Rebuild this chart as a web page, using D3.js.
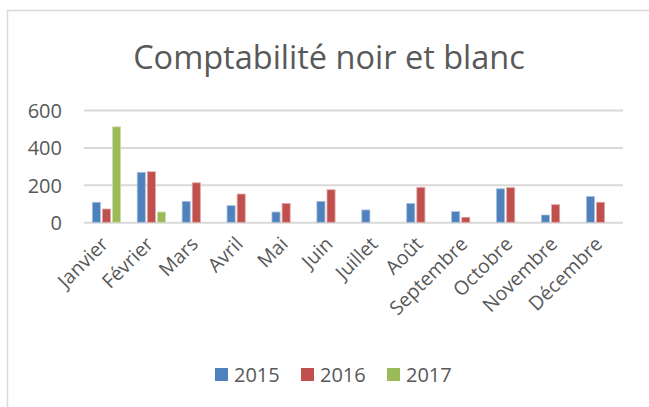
<!DOCTYPE html>
<html>
<head>
<meta charset="utf-8">
<script src="https://cdn.jsdelivr.net/npm/d3@7"></script>
<style>
  body { margin: 0; background: #fff; }
  svg { display: block; font-family: "Open Sans", sans-serif; }
</style>
</head>
<body>
<svg id="chart" width="649" height="407"></svg>
<script>
// months on the x axis
const months = ['Janvier', 'Février', 'Mars', 'Avril', 'Mai', 'Juin', 'Juillet', 'Août', 'Septembre', 'Octobre', 'Novembre', 'Décembre'];
const years = ['2015', '2016', '2017'];

// values, null = no bar
const values2015 = [107, 267, 112, 89, 55, 112, 66, 101, 57, 179, 39, 138];
const values2016 = [71, 270, 211, 151, 101, 174, null, 187, 27, 185, 94, 107];
const values2017 = [510, 55, null, null, null, null, null, null, null, null, null, null];

const yTicks = [0, 200, 400, 600];

const colors = ['#4F81BD', '#C0504D', '#9BBB59'];
const strokes = ['#A7C0DE', '#E0A8A6', '#CDDDAC'];
const textColor = '#595959';

const svg = d3.select('#chart');

// outer frame (cut off on the right and bottom)
svg.append('rect')
  .attr('x', 7.5).attr('y', 10.5)
  .attr('width', 700).attr('height', 500)
  .attr('fill', 'none')
  .attr('stroke', '#D9D9D9')
  .attr('stroke-width', 1.5);

svg.append('text')
  .attr('x', 329).attr('y', 69)
  .attr('text-anchor', 'middle')
  .attr('font-size', 32.5)
  .attr('fill', textColor)
  .text('Comptabilité noir et blanc');

const xScale = d3.scaleBand().domain(months).range([84, 623]).paddingInner(0.37).paddingOuter(0.185);
const xSub = d3.scaleBand().domain(years).range([0, xScale.bandwidth()]).paddingInner(0.2);
const yScale = d3.scaleLinear().domain([0, 600]).range([222.3, 110]);

// gridlines + y labels
const yAxis = svg.append('g')
  .attr('transform', 'translate(84,0)')
  .call(d3.axisLeft(yScale).tickValues(yTicks).tickSizeInner(-539).tickSizeOuter(0).tickPadding(22));
yAxis.select('.domain').remove();
yAxis.selectAll('.tick line').attr('stroke', '#D9D9D9').attr('stroke-width', 2);
yAxis.selectAll('.tick text')
  .attr('font-size', 20)
  .attr('font-family', '"Open Sans", sans-serif')
  .attr('fill', textColor)
  .attr('dy', '0.36em');

// bars
const series = [values2015, values2016, values2017];
series.forEach(function (vals, s) {
  svg.append('g').selectAll('rect')
    .data(vals.map(function (v, i) { return { month: months[i], value: v }; }).filter(function (d) { return d.value !== null; }))
    .enter()
    .append('rect')
    .attr('x', function (d) { return xScale(d.month) + xSub(years[s]); })
    .attr('y', function (d) { return yScale(d.value); })
    .attr('width', xSub.bandwidth())
    .attr('height', function (d) { return yScale(0) - yScale(d.value); })
    .attr('fill', colors[s])
    .attr('stroke', strokes[s])
    .attr('stroke-width', 0.8);
});

// x labels, rotated
const xAxis = svg.append('g')
  .attr('transform', 'translate(0,222.3)')
  .call(d3.axisBottom(xScale).tickSize(0).tickPadding(0));
xAxis.select('.domain').remove();
xAxis.selectAll('.tick text')
  .attr('font-size', 19.5)
  .attr('font-family', '"Open Sans", sans-serif')
  .attr('fill', textColor)
  .attr('text-anchor', 'end')
  .attr('y', 0)
  .attr('dy', 0)
  .attr('transform', 'translate(3,23) rotate(-45)');

// legend
const legend = svg.append('g');
years.forEach(function (y, i) {
  const lx = 215 + i * 86;
  legend.append('rect')
    .attr('x', lx).attr('y', 368)
    .attr('width', 13).attr('height', 13)
    .attr('fill', colors[i]);
  legend.append('text')
    .attr('x', lx + 19).attr('y', 382)
    .attr('font-size', 20)
    .attr('fill', textColor)
    .text(y);
});
</script>
</body>
</html>
